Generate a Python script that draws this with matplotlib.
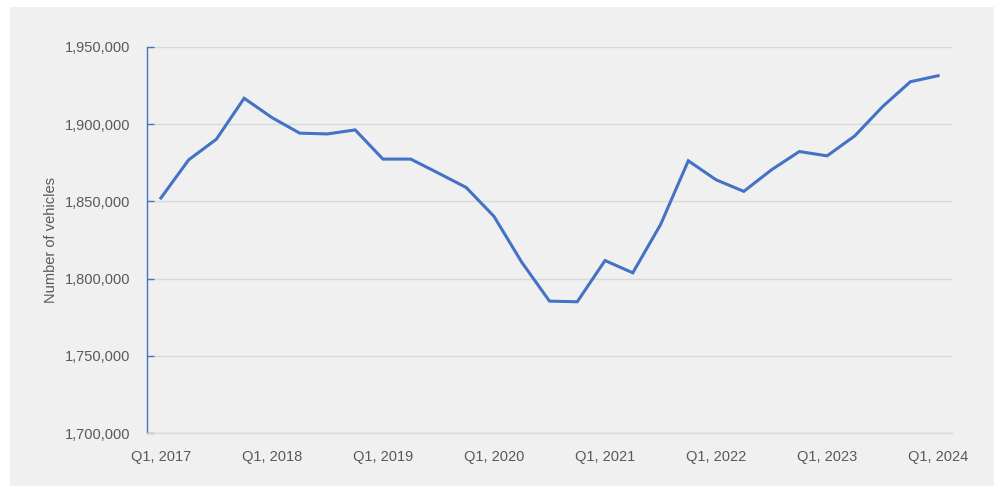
import matplotlib.pyplot as plt
from matplotlib.patches import Rectangle
from matplotlib.ticker import FuncFormatter

# quarterly vehicle counts, Q1 2017 .. Q1 2024
quarters = [f"Q{q}, {y}" for y in range(2017, 2025) for q in range(1, 5)][:29]
vehicles = [1852200, 1876900, 1890300, 1916800, 1904300, 1894200, 1893700, 1896300,
            1877400, 1877400, 1868300, 1859000, 1840300, 1810600, 1785400, 1785000,
            1811700, 1803750, 1834950, 1876300, 1864000, 1856500, 1870500, 1882300,
            1879500, 1892450, 1911400, 1927500, 1931400]
y_ticks = [1700000, 1750000, 1800000, 1850000, 1900000, 1950000]

W, H = 995, 486
fig = plt.figure(figsize=(W / 100, H / 100), dpi=100)
fig.patch.set_facecolor('white')
fig.patches.append(Rectangle((10 / W, 0), 1 - 10 / W, 1 - 7 / H, transform=fig.transFigure,
                             facecolor='#f0f0f0', edgecolor='none', zorder=-10))

ax = fig.add_axes([147 / W, 53 / H, (952 - 147) / W, (433 - 47) / H])
ax.set_facecolor('none')

x = list(range(len(vehicles)))
ax.plot(x, vehicles, color='#4472c4', linewidth=2.2, solid_joinstyle='miter', zorder=3)

ax.set_xlim(-0.5, len(vehicles) - 0.5)
ax.set_ylim(y_ticks[0], y_ticks[-1])
ax.set_yticks(y_ticks)
ax.yaxis.set_major_formatter(FuncFormatter(lambda v, p: f"{int(v):,}"))
ax.set_xticks(x[::4])
ax.set_xticklabels(quarters[::4])

ax.grid(axis='y', color='#d9d9d9', linewidth=1)
ax.set_axisbelow(True)
for s in ['top', 'right']:
    ax.spines[s].set_visible(False)
ax.spines['left'].set_color('#4472c4')
ax.spines['left'].set_linewidth(1)
ax.spines['bottom'].set_color('#d9d9d9')
ax.spines['bottom'].set_linewidth(1)

font = 'Liberation Sans'
ax.tick_params(axis='y', direction='in', length=5, color='#4472c4', width=1,
               labelsize=10.5, labelcolor='#595959', pad=12)
ax.tick_params(axis='x', length=0, labelsize=10.5, labelcolor='#595959', pad=12)
for lab in ax.get_xticklabels() + ax.get_yticklabels():
    lab.set_fontfamily(font)

ax.set_ylabel('Number of vehicles', fontsize=10.5, color='#595959', fontfamily=font, labelpad=5)

fig.savefig('out.png', dpi=100, facecolor=fig.get_facecolor())
